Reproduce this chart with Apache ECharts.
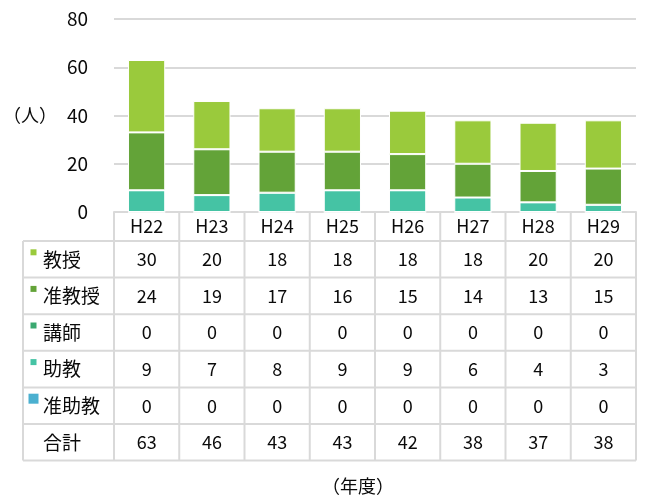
<!DOCTYPE html>
<html>
<head>
<meta charset="utf-8">
<script src="https://cdn.jsdelivr.net/npm/echarts@6/dist/echarts.min.js"></script>
<style>
  html, body { margin: 0; padding: 0; background: #fff; }
  #chart { width: 646px; height: 497px; }
</style>
</head>
<body>
<div id="chart"></div>
<script>
var years = ["H22", "H23", "H24", "H25", "H26", "H27", "H28", "H29"];
var kyoju = [30, 20, 18, 18, 18, 18, 20, 20];
var junKyoju = [24, 19, 17, 16, 15, 14, 13, 15];
var koshi = [0, 0, 0, 0, 0, 0, 0, 0];
var jokyo = [9, 7, 8, 9, 9, 6, 4, 3];
var junJokyo = [0, 0, 0, 0, 0, 0, 0, 0];
var yTicks = [0, 20, 40, 60, 80];

var rows = [
  { name: "教授", data: kyoju, color: "#9aca3c", mark: 6 },
  { name: "准教授", data: junKyoju, color: "#63a338", mark: 6 },
  { name: "講師", data: koshi, color: "#3aa870", mark: 6 },
  { name: "助教", data: jokyo, color: "#45c3a4", mark: 6 },
  { name: "准助教", data: junJokyo, color: "#4bb0d0", mark: 10 }
];
var totals = years.map(function (y, i) {
  return rows.reduce(function (s, r) { return s + r.data[i]; }, 0);
});

var font = "'Noto Sans CJK JP', sans-serif";
var lineColor = "#d9d9d9";
var textColor = "#0a0a0a";

var chart = echarts.init(document.getElementById("chart"));

// stack order bottom -> top is the reverse of the table rows
var series = rows.slice().reverse().map(function (r) {
  return {
    name: r.name,
    type: "bar",
    stack: "total",
    barWidth: "57%",
    data: r.data,
    itemStyle: { color: r.color, borderColor: "#fff", borderWidth: 1 },
    silent: true
  };
});

chart.setOption({
  animation: false,
  grid: { left: 114, right: 10, top: 19, bottom: 285 },
  xAxis: {
    type: "category",
    data: years,
    axisLine: { lineStyle: { color: lineColor, width: 2 } },
    axisTick: { show: false },
    axisLabel: { show: false }
  },
  yAxis: {
    type: "value",
    min: yTicks[0],
    max: yTicks[yTicks.length - 1],
    interval: 20,
    axisLine: { show: false },
    axisTick: { show: false },
    axisLabel: { fontSize: 19, color: textColor, fontFamily: font, margin: 26 },
    splitLine: { lineStyle: { color: lineColor, width: 2 } }
  },
  series: series
});

// table under the plot, positioned from the category axis
function drawTable() {
  var c0 = chart.convertToPixel({ xAxisIndex: 0 }, years[0]);
  var c1 = chart.convertToPixel({ xAxisIndex: 0 }, years[1]);
  var band = c1 - c0;
  var left = c0 - band / 2;
  var right = left + band * years.length;
  var axisY = chart.convertToPixel({ yAxisIndex: 0 }, 0);
  var tableLeft = 23;
  var headerBottom = 241;
  var rowH = 36.6;
  var nRows = rows.length + 1;
  var tableBottom = headerBottom + rowH * nRows;
  var els = [];
  var ls = { stroke: lineColor, lineWidth: 2 };

  // vertical lines
  for (var i = 0; i <= years.length; i++) {
    var x = left + band * i;
    els.push({ type: "line", shape: { x1: x, y1: axisY, x2: x, y2: tableBottom }, style: ls, silent: true });
  }
  els.push({ type: "line", shape: { x1: tableLeft, y1: headerBottom, x2: tableLeft, y2: tableBottom }, style: ls, silent: true });
  // horizontal lines
  for (var r = 0; r <= nRows; r++) {
    var y = headerBottom + rowH * r;
    els.push({ type: "line", shape: { x1: tableLeft, y1: y, x2: right, y2: y }, style: ls, silent: true });
  }
  // header
  years.forEach(function (yr, i) {
    els.push({
      type: "text", x: c0 + band * i, y: (axisY + headerBottom) / 2, silent: true,
      style: { text: yr, fontSize: 18, fontFamily: font, fill: textColor, align: "center", verticalAlign: "middle" }
    });
  });
  // body rows
  var allRows = rows.concat([{ name: "合計", data: totals }]);
  allRows.forEach(function (row, r) {
    var cy = headerBottom + rowH * r + rowH / 2;
    if (row.color) {
      els.push({
        type: "rect", silent: true,
        shape: { x: 33.5 - row.mark / 2, y: cy - 7 - row.mark / 2, width: row.mark, height: row.mark },
        style: { fill: row.color }
      });
    }
    els.push({
      type: "text", x: 43, y: cy, silent: true,
      style: { text: row.name, fontSize: 19, fontFamily: font, fill: textColor, align: "left", verticalAlign: "middle" }
    });
    row.data.forEach(function (v, i) {
      els.push({
        type: "text", x: c0 + band * i, y: cy, silent: true,
        style: { text: String(v), fontSize: 18, fontFamily: font, fill: textColor, align: "center", verticalAlign: "middle" }
      });
    });
  });
  // axis names
  els.push({
    type: "text", x: 30, y: chart.convertToPixel({ yAxisIndex: 0 }, 40), silent: true,
    style: { text: "（人）", fontSize: 18, fontFamily: font, fill: textColor, align: "center", verticalAlign: "middle" }
  });
  els.push({
    type: "text", x: 358, y: 486, silent: true,
    style: { text: "（年度）", fontSize: 18, fontFamily: font, fill: textColor, align: "center", verticalAlign: "middle" }
  });
  chart.setOption({ graphic: { elements: els } });
}
drawTable();
</script>
</body>
</html>
